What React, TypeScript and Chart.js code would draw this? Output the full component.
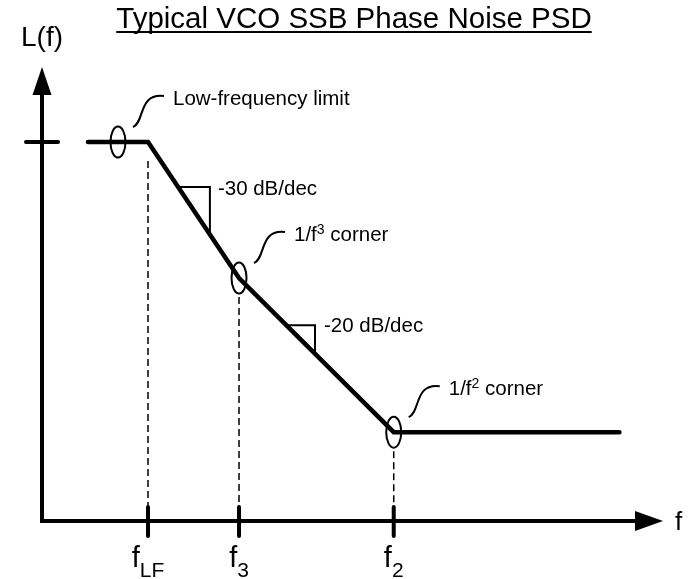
import { useEffect, useRef } from "react";
import { Chart, registerables } from "chart.js";

Chart.register(...registerables);

const TITLE = "Typical VCO SSB Phase Noise PSD";
const Y_LABEL = "L(f)";
const X_LABEL = "f";

// Piecewise-linear L(f): x = log10(frequency / Hz), y = dBc/Hz
const curveLogF = [2.34, 3, 4, 5.7, 8.18];
const curveDb = [-40, -40, -70, -104, -104];

// Break frequencies (log10 Hz), level there, and tick labels
const tickLogF = [3, 4, 5.7];
const tickDb = [-40, -70, -104];
const tickMain = ["f", "f", "f"];
const tickSub = ["LF", "3", "2"];
const yTickDb = [-40];

// Circled features and callout labels
const markerLogF = [2.67, 4, 5.7];
const markerDb = [-40, -70, -104];
const markerText = ["Low-frequency limit", "1/f", "1/f"];
const markerSup = ["", "3", "2"];
const markerTail = ["", " corner", " corner"];

// Slope triangles
const slope30LogF = [3.33, 3.68];
const slope30Db = [-49.9, -60.4];
const slope20LogF = [4.52, 4.835];
const slope20Db = [-80.4, -86.7];
const slopeText = ["-30 dB/dec", "-20 dB/dec"];

const X_MIN = 1.835;
const X_MAX = 8.659;
const Y_MIN = -123.6;
const Y_MAX = -23.45;

const FONT = '"Liberation Sans", Arial, Helvetica, sans-serif';
const LABEL_PX = 20.5;

const diagramPlugin = {
  id: "diagram",
  beforeDatasetsDraw(chart: any) {
    const { ctx, chartArea: a, scales } = chart;
    const x = scales.x;
    const y = scales.y;
    ctx.save();
    ctx.strokeStyle = "#000";
    ctx.fillStyle = "#000";
    // dashed drop lines
    ctx.lineWidth = 1.5;
    ctx.setLineDash([7, 4]);
    tickLogF.forEach((f, i) => {
      const px = x.getPixelForValue(f);
      const py = y.getPixelForValue(tickDb[i]) + 19;
      ctx.beginPath();
      ctx.moveTo(px, py);
      ctx.lineTo(px, a.bottom);
      ctx.stroke();
    });
    ctx.setLineDash([]);
    // axes
    const ox = a.left;
    const oy = a.bottom;
    ctx.lineWidth = 4;
    ctx.lineJoin = "miter";
    ctx.lineCap = "butt";
    ctx.beginPath();
    ctx.moveTo(ox, a.top + 26);
    ctx.lineTo(ox, oy);
    ctx.lineTo(a.right - 26, oy);
    ctx.stroke();
    ctx.beginPath();
    ctx.moveTo(ox, a.top);
    ctx.lineTo(ox - 9.5, a.top + 28);
    ctx.lineTo(ox + 9.5, a.top + 28);
    ctx.closePath();
    ctx.fill();
    ctx.beginPath();
    ctx.moveTo(a.right, oy);
    ctx.lineTo(a.right - 28, oy - 10);
    ctx.lineTo(a.right - 28, oy + 10);
    ctx.closePath();
    ctx.fill();
    // ticks
    ctx.lineCap = "round";
    yTickDb.forEach((v) => {
      const py = y.getPixelForValue(v);
      ctx.beginPath();
      ctx.moveTo(ox - 16, py);
      ctx.lineTo(ox + 16, py);
      ctx.stroke();
    });
    tickLogF.forEach((f, i) => {
      const px = x.getPixelForValue(f);
      ctx.beginPath();
      ctx.moveTo(px, oy - 14);
      ctx.lineTo(px, oy + 15);
      ctx.stroke();
      ctx.font = `29px ${FONT}`;
      const wm = ctx.measureText(tickMain[i]).width;
      ctx.font = `21px ${FONT}`;
      const ws = ctx.measureText(tickSub[i]).width;
      const sx = px - (wm + ws) / 2;
      ctx.textAlign = "left";
      ctx.textBaseline = "alphabetic";
      ctx.font = `29px ${FONT}`;
      ctx.fillText(tickMain[i], sx, oy + 46);
      ctx.font = `21px ${FONT}`;
      ctx.fillText(tickSub[i], sx + wm, oy + 56);
    });
    // axis labels
    ctx.textBaseline = "alphabetic";
    ctx.font = `28px ${FONT}`;
    ctx.textAlign = "center";
    ctx.fillText(Y_LABEL, ox, a.top - 21);
    ctx.textAlign = "left";
    ctx.font = `26px ${FONT}`;
    ctx.fillText(X_LABEL, a.right + 12, oy + 9);
    // title
    ctx.font = `29.5px ${FONT}`;
    const tw = ctx.measureText(TITLE).width;
    const tx = 354 - tw / 2;
    ctx.fillText(TITLE, tx, 28);
    ctx.lineWidth = 2;
    ctx.lineCap = "butt";
    ctx.beginPath();
    ctx.moveTo(tx, 32);
    ctx.lineTo(tx + tw, 32);
    ctx.stroke();
    ctx.restore();
  },
  afterDatasetsDraw(chart: any) {
    const { ctx, scales } = chart;
    const x = scales.x;
    const y = scales.y;
    ctx.save();
    ctx.strokeStyle = "#000";
    ctx.fillStyle = "#000";
    ctx.lineWidth = 2;
    ctx.textAlign = "left";
    ctx.textBaseline = "alphabetic";
    markerLogF.forEach((f, i) => {
      const px = x.getPixelForValue(f);
      const py = y.getPixelForValue(markerDb[i]);
      ctx.beginPath();
      ctx.ellipse(px, py, 7.5, 15.5, 0, 0, Math.PI * 2);
      ctx.stroke();
      // callout swash
      const sx = px + 15;
      const sy = py - 15;
      ctx.beginPath();
      ctx.moveTo(sx, sy);
      ctx.bezierCurveTo(sx + 12, sy - 5, sx + 5, sy - 34, sx + 31, sy - 31);
      ctx.stroke();
      // label
      let tx = px + 55;
      const ty = py - 37;
      ctx.font = `${LABEL_PX}px ${FONT}`;
      ctx.fillText(markerText[i], tx, ty);
      tx += ctx.measureText(markerText[i]).width;
      if (markerSup[i]) {
        ctx.font = `14px ${FONT}`;
        ctx.fillText(markerSup[i], tx, ty - 7);
        tx += ctx.measureText(markerSup[i]).width;
      }
      if (markerTail[i]) {
        ctx.font = `${LABEL_PX}px ${FONT}`;
        ctx.fillText(markerTail[i], tx, ty);
      }
    });
    ctx.font = `${LABEL_PX}px ${FONT}`;
    ctx.fillText(slopeText[0], x.getPixelForValue(slope30LogF[1]) + 8, y.getPixelForValue(slope30Db[0]) + 8);
    ctx.fillText(slopeText[1], x.getPixelForValue(slope20LogF[1]) + 9, y.getPixelForValue(slope20Db[0]) + 7);
    ctx.restore();
  },
};

export default function App() {
  const ref = useRef<HTMLCanvasElement>(null);
  useEffect(() => {
    const curve = curveLogF.map((f, i) => ({ x: f, y: curveDb[i] }));
    const tri = (fs: number[], ds: number[]) => [
      { x: fs[0], y: ds[0] },
      { x: fs[1], y: ds[0] },
      { x: fs[1], y: ds[1] },
    ];
    const chart = new Chart(ref.current as HTMLCanvasElement, {
      type: "line",
      data: {
        datasets: [
          {
            data: curve,
            borderColor: "#000",
            borderWidth: 4.5,
            borderCapStyle: "round",
            borderJoinStyle: "miter",
            pointRadius: 0,
            tension: 0,
            fill: false,
            clip: false,
          } as any,
          {
            data: tri(slope30LogF, slope30Db),
            borderColor: "#000",
            borderWidth: 2,
            borderJoinStyle: "miter",
            pointRadius: 0,
            tension: 0,
            fill: false,
          },
          {
            data: tri(slope20LogF, slope20Db),
            borderColor: "#000",
            borderWidth: 2,
            borderJoinStyle: "miter",
            pointRadius: 0,
            tension: 0,
            fill: false,
          },
        ],
      },
      options: {
        responsive: false,
        animation: false,
        events: [],
        layout: { padding: { left: 42, right: 26, top: 67, bottom: 58 } },
        scales: {
          x: { type: "linear", min: X_MIN, max: X_MAX, display: false },
          y: { type: "linear", min: Y_MIN, max: Y_MAX, display: false },
        },
        plugins: {
          legend: { display: false },
          tooltip: { enabled: false },
          title: { display: false },
        },
      },
      plugins: [diagramPlugin],
    });
    return () => chart.destroy();
  }, []);
  return (
    <div style={{ position: "absolute", left: 0, top: 0, width: 689, height: 579, background: "#fff" }}>
      <canvas ref={ref} width={689} height={579} style={{ display: "block", width: 689, height: 579 }} />
    </div>
  );
}
